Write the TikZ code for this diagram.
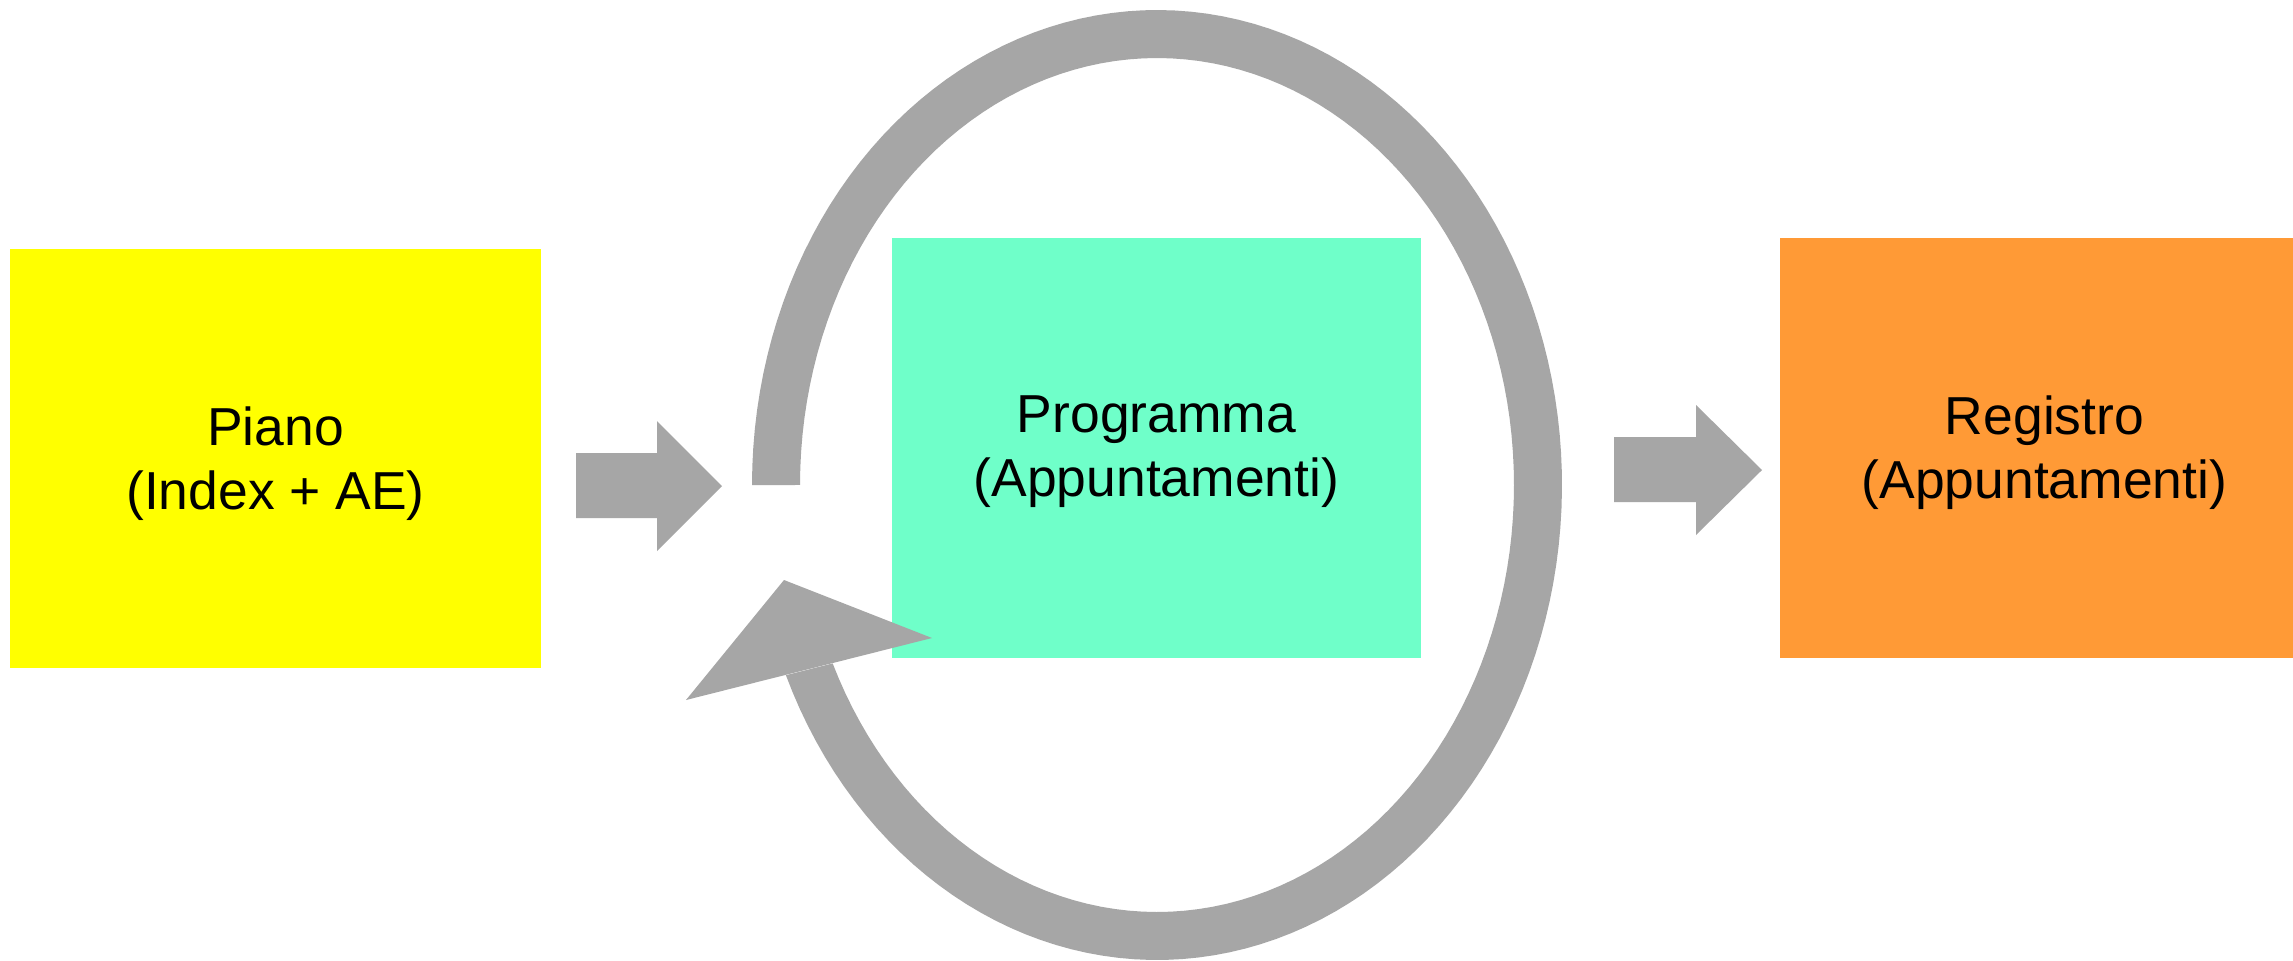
\documentclass[tikz,border=0pt]{standalone}
\usepackage{fontspec}
\setmainfont{Liberation Sans}
\definecolor{ringgray}{HTML}{A6A6A6}
\definecolor{boxyellow}{HTML}{FFFF00}
\definecolor{boxgreen}{HTML}{6FFFC9}
\definecolor{boxorange}{HTML}{FF9A36}
\tikzset{
  box/.style={rectangle, inner sep=0pt, align=center,
    font=\fontsize{15.2}{18.2}\selectfont, text=black},
  blockarrow/.style={fill=ringgray},
}
\begin{document}
\begin{tikzpicture}[x=0.01cm, y=-0.01cm]
\useasboundingbox (0,0) rectangle (2293,960);
\clip (0,0) rectangle (2293,960);
\fill[white] (0,0) rectangle (2293,960);
% boxes
\node[box, fill=boxyellow, minimum width=5.31cm, minimum height=4.19cm] (piano) at (275.5,458.5) {};
\node[box, fill=boxgreen, minimum width=5.29cm, minimum height=4.20cm] (prog) at (1156.5,448) {};
\node[box, fill=boxorange, minimum width=5.29cm, minimum height=4.20cm] (reg) at (2044.5,448) {};
% texts
\node[box] (pianotxt) at ([yshift=-0.05cm]piano.center) {Piano\\(Index + AE)};
\node[box] (progtxt) at ([yshift=-0.04cm]prog.center) {Programma\\(Appuntamenti)};
\node[box] (regtxt) at ([yshift=-0.05cm]reg.center) {Registro\\(Appuntamenti)};
% block arrows
\fill[blockarrow] (576,453) -- (657,453) -- (657,421) -- (722,486) -- (657,551) -- (657,518) -- (576,518) -- cycle;
\fill[blockarrow] (1614,437) -- (1696,437) -- (1696,405) -- (1762,470) -- (1696,535) -- (1696,502) -- (1614,502) -- cycle;
% circular arrow
\fill[ringgray] plot[domain=180:516.4, samples=150] ({1157+405*cos(\x)},{485+475*sin(\x)})
  -- plot[domain=515.3:180, samples=150] ({1157+357*cos(\x)},{485+427*sin(\x)}) -- cycle;
\coordinate (tip) at (784,580);
\coordinate (barbL) at (686,700);
\coordinate (barbR) at (932,638);
\fill[ringgray] (tip) -- (barbL) -- (barbR) -- cycle;
\end{tikzpicture}
\end{document}
